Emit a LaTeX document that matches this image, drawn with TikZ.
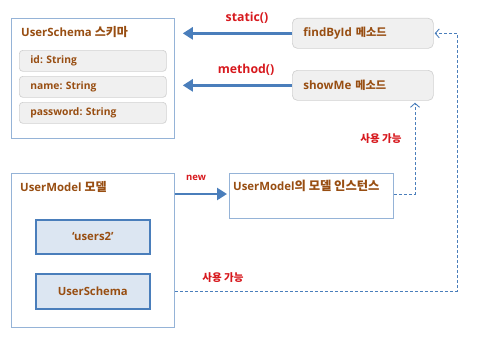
\documentclass[tikz,border=0pt]{standalone}
\usepackage{fontspec}
\setmainfont{Open Sans}
\newfontfamily\kr{Noto Sans CJK KR}
\newcommand\kor[2]{{\kr\bfseries\fontsize{#1}{#1}\selectfont #2}}
\frenchspacing
\usetikzlibrary{arrows.meta}
\definecolor{txtbrown}{RGB}{152,78,18}
\definecolor{lblred}{RGB}{215,25,30}
\definecolor{boxblue}{RGB}{149,179,215}
\definecolor{arrblue}{RGB}{74,126,187}
\definecolor{innerfill}{RGB}{220,230,242}
\definecolor{graybd}{RGB}{210,210,210}
\definecolor{grayfill}{RGB}{240,240,240}
\tikzset{
  outerbox/.style={draw=boxblue, line width=0.8pt, rectangle, inner sep=0pt, anchor=north west, fill=white},
  grayfield/.style={draw=graybd, fill=grayfill, rounded corners=3.5pt, line width=0.7pt, anchor=north west,
    inner xsep=11pt, inner ysep=0pt, align=left, font=\bfseries\fontsize{10.3}{12}\selectfont, text=txtbrown},
  methodbox/.style={grayfield, rounded corners=5pt, font=\bfseries\fontsize{11.6}{13}\selectfont},
  innerbox/.style={draw=arrblue, fill=innerfill, line width=1.6pt, anchor=north west, inner sep=0pt,
    font=\bfseries\fontsize{11.3}{13}\selectfont, text=txtbrown},
  titletxt/.style={font=\bfseries\fontsize{11.4}{13}\selectfont, text=txtbrown, inner sep=0pt},
  redlbl/.style={font=\bfseries\fontsize{12.3}{14}\selectfont, text=lblred, inner sep=0pt},
  smallred/.style={font=\bfseries\fontsize{9.5}{11}\selectfont, text=lblred, inner sep=0pt},
  bigarrow/.style={draw=arrblue, line width=2.6pt, -{Triangle[length=10pt,width=12pt]}},
  dasharrow/.style={draw=arrblue, line width=0.9pt, dash pattern=on 3pt off 2pt, -{Straight Barb[length=4pt,width=9pt]}}
}
\begin{document}
\begin{tikzpicture}[x=1pt,y=-1pt]
\useasboundingbox (0,0) rectangle (494,345);
% UserSchema box
\node[outerbox, minimum width=163pt, minimum height=120pt] (schema) at (11,18) {};
\node[titletxt, anchor=west] (schematitle) at (21,32.5) {UserSchema \kor{12}{스키마}};
\node[grayfield, text width=125pt, minimum height=21pt] (fid) at (19,50) {id: String};
\node[grayfield, text width=125pt, minimum height=21pt] (fname) at (19,76) {name: String};
\node[grayfield, text width=125pt, minimum height=21pt] (fpw) at (19,102) {password: String};
% method boxes
\node[methodbox, text width=119pt, minimum height=30pt] (find) at (292,18) {findById \kor{11.2}{메소드}};
\node[methodbox, text width=119pt, minimum height=30pt] (show) at (292,70) {showMe \kor{11.2}{메소드}};
% arrows to schema
\draw[bigarrow, shorten >=8pt] (find.west) -- (schema.east |- find.west);
\draw[bigarrow, shorten >=8pt] (show.west) -- (schema.east |- show.west);
\node[redlbl] (lstatic) at (247,18) {static()};
\node[redlbl] (lmethod) at (246,70) {method()};
% UserModel box
\node[outerbox, minimum width=163pt, minimum height=154pt] (umodel) at (11,173) {};
\node[titletxt, anchor=west] (umodeltitle) at (20,186.5) {UserModel \kor{12}{모델}};
\node[innerbox, minimum width=114pt, minimum height=34pt] (users) at (35,219) {‘users2’};
\node[innerbox, minimum width=114pt, minimum height=35pt] (usch) at (35,273) {UserSchema};
% instance
\node[outerbox, minimum width=164pt, minimum height=45pt] (inst) at (229,173) {};
\node[titletxt, anchor=west] (insttitle) at (233,186) {UserModel\kor{12.3}{의 모델 인스턴스}};
\draw[bigarrow, line width=2.4pt, shorten >=2pt] (umodel.east |- 0,194) -- (inst.west |- 0,194);
\node[smallred] (lnew) at (196,178) {new};
% dashed connectors
\coordinate (c2) at (415,194);
\draw[dasharrow, shorten >=2pt] (inst.east |- c2) -- (c2) -- (c2 |- show.south);
\node[smallred] (luse1) at (381,139) {\kor{10.5}{사용 가능}};
\coordinate (c1) at (457,291);
\draw[dasharrow, shorten >=1pt] (umodel.east |- c1) -- (c1) |- (find.east);
\node[smallred] (luse2) at (223,278) {\kor{10.5}{사용 가능}};
\end{tikzpicture}
\end{document}
